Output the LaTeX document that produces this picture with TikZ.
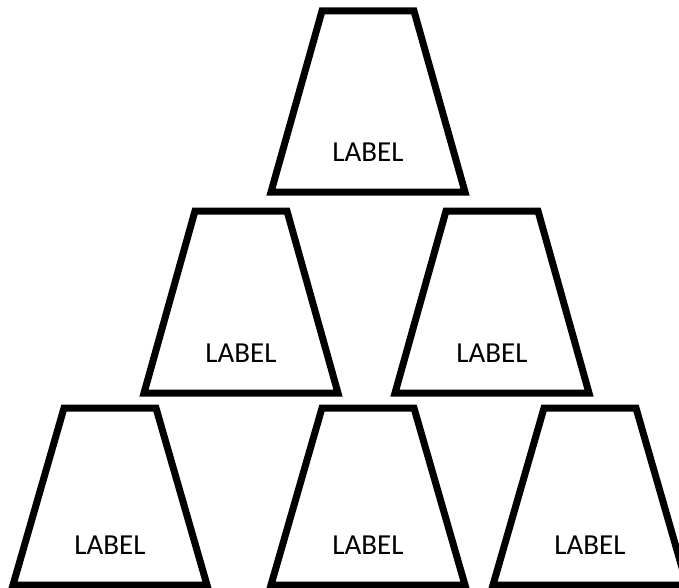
\documentclass[tikz,border=0pt]{standalone}
\usepackage{fontspec}
\setmainfont{Carlito}
\usetikzlibrary{calc}

\tikzset{
	cupline/.style={line width=7pt, line join=miter},
	cuplabel/.style={font=\fontsize{29}{35}\selectfont, inner sep=0pt}
}

\begin{document}
\begin{tikzpicture}[x=1pt, y=-1pt]
	% page frame
	\useasboundingbox (0, 0) rectangle (679, 588);

	% cups: centre x / top y / bottom y / name
	\foreach \xc/\yt/\yb/\nm in {368/11/192/cuptop, 241/211/393/cupmidleft, 492/211/393/cupmidright, 110/408/585/cupbotleft, 368/408/585/cupbotmid, 590/408/585/cupbotright} {
		\draw[cupline] (\xc-46, \yt) -- (\xc+46, \yt) -- (\xc+97, \yb) -- (\xc-97, \yb) -- cycle;
		\node[cuplabel] (\nm) at (\xc, \yb-40) {LABEL};
	}
\end{tikzpicture}
\end{document}
